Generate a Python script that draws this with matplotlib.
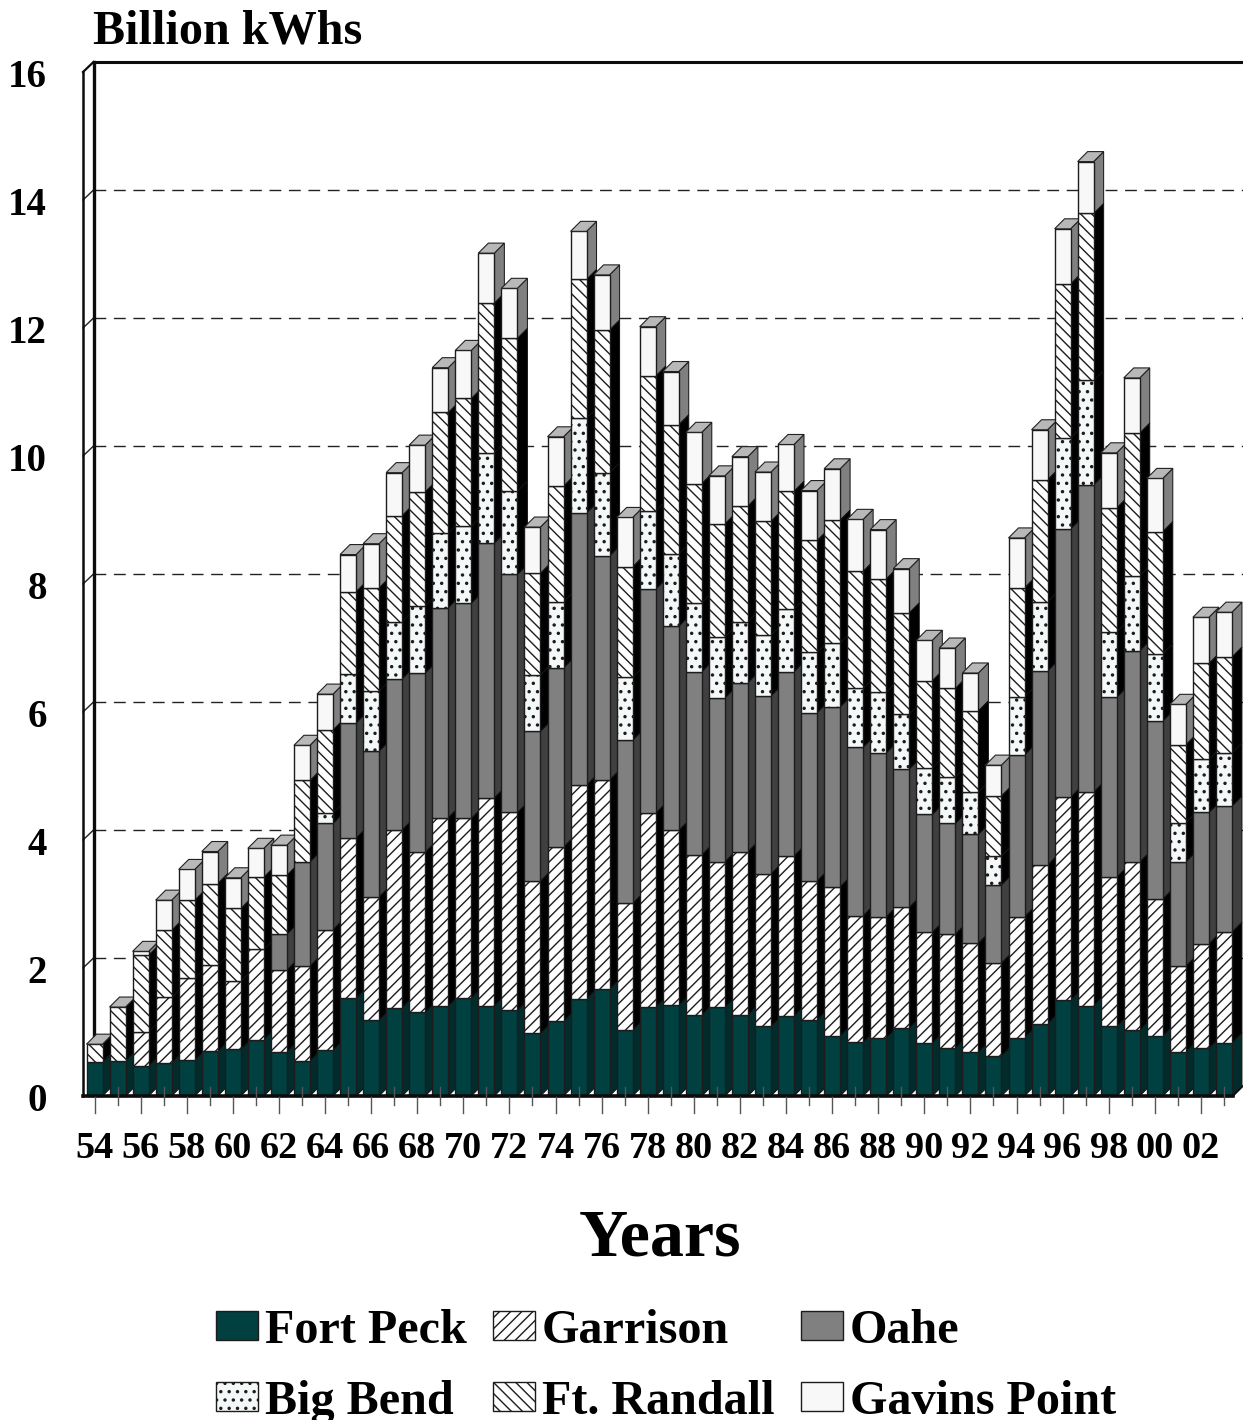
import matplotlib
matplotlib.use("Agg")
import matplotlib.pyplot as plt
import matplotlib.hatch as mhatch
from matplotlib.patches import Polygon, Rectangle

plt.rcParams['font.family'] = ['Liberation Serif', 'DejaVu Serif']
plt.rcParams['hatch.linewidth'] = 1.0
mhatch.SmallFilledCircles.size = 0.12

years = list(range(54, 104))
fort_peck = [.53,.55,.47,.52,.56,.70,.73,.88,.69,.55,.72,1.53,1.19,1.38,1.31,1.41,1.53,1.41,1.34,.98,1.17,1.52,1.67,1.03,1.39,1.42,1.27,1.39,1.27,1.09,1.25,1.19,.94,.84,.91,1.06,.83,.75,.69,.63,.91,1.13,1.50,1.41,1.09,1.03,.94,.69,.75,.83]
garrison = [0,0,.53,1.02,1.28,1.34,1.06,1.41,1.28,1.48,1.88,2.50,1.92,2.78,2.50,2.94,2.81,3.25,3.09,2.38,2.72,3.34,3.27,1.98,3.03,2.73,2.50,2.27,2.55,2.38,2.50,2.17,2.33,1.98,1.89,1.89,1.73,1.78,1.70,1.45,1.89,2.48,3.17,3.34,2.33,2.63,2.14,1.34,1.63,1.73]
oahe = [0,0,0,0,0,0,0,0,.56,1.63,1.66,1.80,2.28,2.36,2.80,3.28,3.36,3.98,3.72,2.34,2.80,4.25,3.50,2.55,3.50,3.19,2.86,2.56,2.64,2.78,2.88,2.63,2.81,2.63,2.56,2.16,1.84,1.73,1.70,1.22,2.53,3.03,4.19,4.80,2.81,3.30,2.78,1.63,2.05,1.97]
big_bend = [0,0,0,0,0,0,0,0,0,0,.16,.77,.94,.89,1.05,1.17,1.20,1.41,1.30,.88,1.03,1.48,1.30,.98,1.22,1.13,1.08,.95,.95,.95,.98,.94,1.00,.92,.95,.86,.73,.72,.66,.45,.91,1.08,1.42,1.63,1.02,1.17,1.05,.61,.83,.83]
ft_randall = [.28,.84,1.20,1.05,1.22,1.28,1.14,1.13,.92,1.27,1.30,1.28,1.61,1.66,1.78,1.88,2.00,2.34,2.39,1.59,1.81,2.17,2.23,1.73,2.11,2.02,1.86,1.77,1.81,1.78,1.84,1.75,1.92,1.83,1.77,1.58,1.36,1.39,1.27,.94,1.70,1.91,2.41,2.61,1.94,2.23,1.91,1.22,1.50,1.50]
gavins_point = [0,0,.06,.47,.48,.50,.48,.45,.47,.55,.56,.58,.69,.67,.73,.70,.75,.78,.78,.72,.77,.75,.86,.77,.77,.83,.80,.75,.77,.77,.73,.78,.80,.81,.77,.69,.63,.63,.59,.48,.78,.78,.86,.81,.86,.86,.83,.63,.72,.70]

series = [
    ("Fort Peck", fort_peck, '#004040', '#022c2c', None),
    ("Garrison", garrison, 'white', '#000000', '///'),
    ("Oahe", oahe, '#808080', '#404040', None),
    ("Big Bend", big_bend, '#f4f8f8', '#000000', '..'),
    ("Ft. Randall", ft_randall, 'white', '#000000', '\\\\\\'),
    ("Gavins Point", gavins_point, '#f8f8f8', '#808080', None),
]
EDGE = '#1c1c1c'

W, H = 1243, 1420
PX_X = 23.05   # pixels per year
PX_Y = 64.0    # pixels per billion kWh
X0, Y0 = 94.5, 1096.0
fig = plt.figure(figsize=(W / 100, H / 100), dpi=100, facecolor='white')
ax = fig.add_axes([0, 0, 1, 1])
ax.set_xlim(-X0 / PX_X, (W - X0) / PX_X)
ax.set_ylim(-(H - Y0) / PX_Y, Y0 / PX_Y)
ax.axis('off')

DX, DY = 10 / PX_X, 10 / PX_Y
BW = 16 / PX_X


def X(p):
    return (p - X0) / PX_X


def Y(p):
    return (Y0 - p) / PX_Y


z = 1
n = len(years)
left_wall, back_wall, right_end = X(83), X(93.5), X(1233)

# walls and gridlines
for v in range(2, 16, 2):
    ax.plot([back_wall, X(1243)], [v + DY, v + DY], color='#222222', lw=1.0,
            dashes=(8.5, 5.5), zorder=0.5)
    ax.plot([left_wall, back_wall], [v, v + DY], color='#222222', lw=1, zorder=0.5)
ax.plot([back_wall, back_wall], [DY, 16 + DY], lw=2.4, color='#0c0c0c',
        solid_capstyle='projecting', zorder=0.6)

# bars
for i in range(n):
    base = 0.0
    tops = [s[1][i] for s in series]
    last = max(k for k, t in enumerate(tops) if t > 0)
    xl, xr = i - BW / 2, i + BW / 2
    for k, (name, vals, face, side, hatch) in enumerate(series):
        v = vals[i]
        if v <= 0:
            continue
        top = base + v
        ax.add_patch(Polygon([(xr, base), (xr + DX, base + DY), (xr + DX, top + DY), (xr, top)],
                             closed=True, facecolor=side, edgecolor='#111111', lw=0.7, zorder=z))
        z += 1
        ax.bar(i, v, BW, bottom=base, facecolor=face, edgecolor=EDGE, linewidth=1.0,
               hatch=hatch, zorder=z)
        z += 1
        if k == last:
            ax.add_patch(Polygon([(xl, top), (xl + DX, top + DY), (xr + DX, top + DY), (xr, top)],
                                 closed=True, facecolor='#b8b8b8', edgecolor='#222222',
                                 lw=0.8, zorder=z))
            z += 1
        base = top

# frame
z += 1
fk = dict(color='#0c0c0c', solid_capstyle='projecting', zorder=z)
ax.plot([left_wall, left_wall], [0, 16], lw=1.8, **fk)
ax.plot([back_wall, X(1243)], [16 + DY, 16 + DY], lw=2.2, **fk)
ax.plot([left_wall, back_wall], [16, 16 + DY], lw=1.6, **fk)
ax.plot([left_wall, right_end], [0, 0], lw=2.6, **fk)
ax.plot([right_end, right_end + DX], [0, DY], lw=1.2, **fk)

# ticks
for i, y in enumerate(years):
    if i % 2 == 0:
        ax.plot([i, i], [Y(1097), Y(1113)], color='#555555', lw=1.0, zorder=z)
    else:
        ax.plot([i, i], [Y(1087), Y(1105)], color='#555555', lw=1.0, zorder=z)

# text
for v in range(0, 17, 2):
    ax.text(X(47), v - 15 / PX_Y, str(v), ha='right', va='baseline',
            fontsize=28, fontweight='bold', color='black', zorder=z)
for i, y in enumerate(years):
    if i % 2 == 0 and i < n - 1:
        ax.text(i, Y(1158), f"{y % 100:02d}", ha='center', va='baseline',
                fontsize=27.5, fontweight='bold', color='black', zorder=z)
ax.text(X(93), Y(43), "Billion kWhs", ha='left', va='baseline', fontsize=34.7,
        fontweight='bold', color='black', zorder=z)
ax.text(X(660), Y(1255), "Years", ha='center', va='baseline', fontsize=49,
        fontweight='bold', color='black', zorder=z)

# legend
rows = [(1311, 1343), (1382, 1414)]
cols = [216, 493, 801]
for idx, (name, _, face, _, hatch) in enumerate(series):
    r, c = idx // 3, idx % 3
    sx, sy = cols[c], rows[r][0]
    ax.add_patch(Rectangle((X(sx), Y(sy + 29)), 42 / PX_X, 29 / PX_Y, facecolor=face,
                           edgecolor=EDGE, lw=1.0, hatch=hatch, zorder=z))
    ax.text(X(sx + 49), Y(rows[r][1]), name, ha='left', va='baseline', fontsize=34.7,
            fontweight='bold', color='black', zorder=z)

fig.savefig('out.png', dpi=100, facecolor='white')
